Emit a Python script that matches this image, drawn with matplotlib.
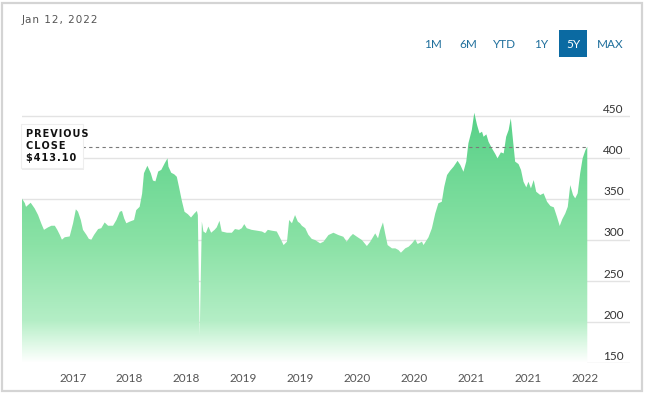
import matplotlib
matplotlib.use("Agg")
import matplotlib.pyplot as plt
import matplotlib.dates as mdates
import numpy as np
import pandas as pd
from matplotlib.colors import LinearSegmentedColormap
from matplotlib.patches import Rectangle, FancyBboxPatch, Polygon

# closing prices
dates = [
    "2017-01-12", "2017-01-21", "2017-01-25", "2017-02-09", "2017-02-22", "2017-03-05",
    "2017-03-15", "2017-03-24", "2017-04-06", "2017-04-17", "2017-04-28", "2017-05-06",
    "2017-05-14", "2017-05-21", "2017-05-30", "2017-06-15", "2017-06-26", "2017-07-05",
    "2017-07-12", "2017-07-21", "2017-07-28", "2017-08-08", "2017-08-16", "2017-08-24",
    "2017-09-02", "2017-09-15", "2017-09-25", "2017-10-06", "2017-10-17", "2017-11-02",
    "2017-11-13", "2017-11-24", "2017-12-01", "2017-12-08", "2017-12-15", "2017-12-26",
    "2018-01-09", "2018-01-16", "2018-01-27", "2018-02-04", "2018-02-10", "2018-02-21",
    "2018-03-04", "2018-03-11", "2018-03-19", "2018-03-28", "2018-04-07", "2018-04-18",
    "2018-04-27", "2018-04-30", "2018-05-09", "2018-05-19", "2018-05-27", "2018-06-03",
    "2018-06-12", "2018-06-21", "2018-07-02", "2018-07-12", "2018-07-23", "2018-07-31",
    "2018-08-03", "2018-08-09", "2018-08-16", "2018-08-21", "2018-08-29", "2018-09-06",
    "2018-09-15", "2018-09-26", "2018-10-03", "2018-10-12", "2018-10-19", "2018-11-05",
    "2018-11-21", "2018-12-01", "2018-12-14", "2018-12-23", "2018-12-31", "2019-01-08",
    "2019-01-24", "2019-02-10", "2019-02-26", "2019-03-08", "2019-03-17", "2019-03-30",
    "2019-04-15", "2019-04-26", "2019-05-07", "2019-05-18", "2019-05-25", "2019-06-03",
    "2019-06-13", "2019-06-22", "2019-06-29", "2019-07-05", "2019-07-16", "2019-07-26",
    "2019-08-06", "2019-08-17", "2019-09-02", "2019-09-13", "2019-09-29", "2019-10-15",
    "2019-10-31", "2019-11-16", "2019-11-27", "2019-12-08", "2019-12-17", "2019-12-30",
    "2020-01-15", "2020-01-31", "2020-02-11", "2020-02-27", "2020-03-07", "2020-03-14",
    "2020-03-23", "2020-03-30", "2020-04-07", "2020-04-21", "2020-05-02", "2020-05-12",
    "2020-05-20", "2020-06-03", "2020-06-14", "2020-06-25", "2020-07-05", "2020-07-13",
    "2020-07-27", "2020-08-01", "2020-08-17", "2020-08-28", "2020-09-08", "2020-09-18",
    "2020-09-29", "2020-10-07", "2020-10-16", "2020-10-26", "2020-11-06", "2020-11-19",
    "2020-11-28", "2020-12-08", "2020-12-17", "2020-12-24", "2021-01-04", "2021-01-12",
    "2021-01-21", "2021-01-29", "2021-02-06", "2021-02-11", "2021-02-20", "2021-02-27",
    "2021-03-10", "2021-03-21", "2021-03-28", "2021-04-08", "2021-04-17", "2021-04-25",
    "2021-05-03", "2021-05-10", "2021-05-17", "2021-05-24", "2021-06-04", "2021-06-12",
    "2021-06-20", "2021-06-29", "2021-07-06", "2021-07-14", "2021-07-23", "2021-07-31",
    "2021-08-13", "2021-08-24", "2021-09-04", "2021-09-15", "2021-09-26", "2021-10-06",
    "2021-10-15", "2021-10-23", "2021-11-02", "2021-11-10", "2021-11-18", "2021-11-27",
    "2021-12-04", "2021-12-12", "2021-12-20", "2021-12-28", "2022-01-06", "2022-01-12",
]
prices = [
    350, 344.6, 340, 345, 338, 330,
    320, 312, 315, 317, 317, 312,
    306, 300, 303, 304, 320, 337,
    334, 324, 312, 306, 301, 300,
    306, 313, 314, 321, 317, 317,
    324, 334, 335, 326, 320, 322,
    324, 336, 340, 356, 381, 390,
    381, 372, 371, 383, 385, 393,
    399, 389, 381.5, 379.5, 376.6, 364.5,
    348, 334, 331, 327, 332, 335,
    330, 183, 322, 310, 308, 316,
    308.5, 312, 315, 323, 310, 308.5,
    308.5, 313, 312, 314, 319, 314,
    312, 311, 310, 308, 312, 311,
    310, 302, 293.5, 297.6, 324, 320,
    330, 322, 320, 317, 314, 306,
    301, 299.6, 295.6, 297.6, 305.7, 308.5,
    305.7, 303.6, 297.6, 303.6, 307, 303.6,
    299.6, 292.3, 297.6, 307.7, 301.7, 311.8,
    321, 307.7, 293.5, 289.5, 289.5, 287.5,
    284.2, 289.5, 291.5, 295.6, 300.5, 294.8,
    297.6, 293.5, 302.9, 313.8, 332, 344.3,
    346.2, 364.5, 378.7, 384, 388.8, 396,
    390.9, 382.7, 395, 417.3, 433.5, 454.5,
    439.5, 429.4, 431.4, 425.3, 428.2, 419.2,
    411.2, 404.2, 399, 406.3, 405, 425.3,
    433.5, 447.7, 421.3, 395, 392, 384.8,
    370.5, 363.7, 370.5, 362.5, 372.6, 358.4,
    354.4, 356.4, 346.2, 341, 339.4, 328,
    316.7, 324.8, 332, 340, 366.5, 354.4,
    350.3, 356.4, 380.7, 399, 409, 413.1,
]
prev_close = 413.10
y_ticks = [150, 200, 250, 300, 350, 400, 450]
x_tick_dates = ["2017-06-25", "2017-12-25", "2018-06-26", "2018-12-27", "2019-06-29",
                "2019-12-31", "2020-07-01", "2021-01-01", "2021-07-04", "2022-01-05"]
x_tick_labels = ["2017", "2018", "2018", "2019", "2019", "2020", "2020", "2021", "2021", "2022"]
ranges = ["1M", "6M", "YTD", "1Y", "5Y", "MAX"]

x = mdates.date2num(pd.to_datetime(dates))
y = np.array(prices)
ymin, ymax = 150, 470

fig = plt.figure(figsize=(6.5, 3.95), dpi=100)
fig.patch.set_facecolor("white")

# outer frame
fig.add_artist(Rectangle((1.5 / 650, 1 - 391 / 395), 640 / 650, 388 / 395,
                         transform=fig.transFigure, fill=False, ec="#d4d4d4", lw=1.6))

ax = fig.add_axes([22 / 650, 1 - 363 / 395, 608 / 650, 263 / 395])
x_right = mdates.date2num(pd.Timestamp("2022-05-30"))
for s in ax.spines.values():
    s.set_visible(False)

for v in y_ticks:
    ax.axhline(v, color="#e3e3e3", lw=1, zorder=1)
    ax.text(0.99, v + 1.5, str(v), transform=ax.get_yaxis_transform(),
            ha="right", va="bottom", fontsize=8.5, color="#333333", family="Lato")

# gradient area
cmap = LinearSegmentedColormap.from_list("g", [
    (0.0, "#ffffff"), (0.06, "#e4faea"), (0.16, "#b4eec6"),
    (0.45, "#8be2a6"), (1.0, "#52cf84")])
grad = np.linspace(0, 1, 256).reshape(-1, 1)
im = ax.imshow(grad, extent=[x[0], x[-1], ymin, ymax], origin="lower",
               aspect="auto", cmap=cmap, zorder=2)
verts = np.vstack([[x[0], ymin], np.column_stack([x, y]), [x[-1], ymin]])
poly = Polygon(verts, closed=True, fc="none", ec="none")
ax.add_patch(poly)
im.set_clip_path(poly)
ax.set_xlim(x[0], x_right)
ax.set_ylim(ymin, ymax)

ax.plot([x[0], x[-1]], [prev_close, prev_close], ls=(0, (3, 3)), color="#7a7a7a",
        lw=0.8, zorder=3)

ax.set_yticks([])
ax.set_xticks(mdates.date2num(pd.to_datetime(x_tick_dates)))
ax.set_xticklabels(x_tick_labels, fontsize=8.5, color="#555555", family="Lato")
ax.tick_params(axis="x", length=0, pad=7)

# previous close label
box = FancyBboxPatch((21 / 650, 1 - 168 / 395), 62 / 650, 44 / 395,
                     boxstyle="square,pad=0", transform=fig.transFigure,
                     fc="white", ec="#eeeeee", lw=0.8, zorder=5)
shadow = FancyBboxPatch((22 / 650, 1 - 170 / 395), 62 / 650, 44 / 395,
                        boxstyle="square,pad=0", transform=fig.transFigure,
                        fc="#000000", alpha=0.07, ec="none", zorder=4)
fig.add_artist(shadow)
fig.add_artist(box)
for i, line in enumerate(["P R E V I O U S", "C L O S E", "$ 4 1 3 . 1 0"]):
    fig.text(26 / 650, 1 - (134 + 12 * i) / 395, line.replace(" ", "\u200a"),
             fontsize=7, fontweight="bold", color="#111111", va="center",
             family="DejaVu Sans", zorder=6)

fig.text(22 / 650, 1 - 20 / 395, "\u200a".join("Jan 12, 2022"), fontsize=7.5,
         color="#555555", va="center", family="DejaVu Sans")

# range buttons
btn_x = [433, 468, 505, 541, 573, 610]
fig.add_artist(Rectangle((559 / 650, 1 - 57 / 395), 28 / 650, 27 / 395,
                         transform=fig.transFigure, fc="#0b6aa2", ec="none"))
for lab, bx in zip(ranges, btn_x):
    fig.text(bx / 650, 1 - 44 / 395, lab, ha="center", va="center", fontsize=8.5,
             color="white" if lab == "5Y" else "#1f6f9c", family="Lato")

fig.savefig("out.png", dpi=100, facecolor="white")
